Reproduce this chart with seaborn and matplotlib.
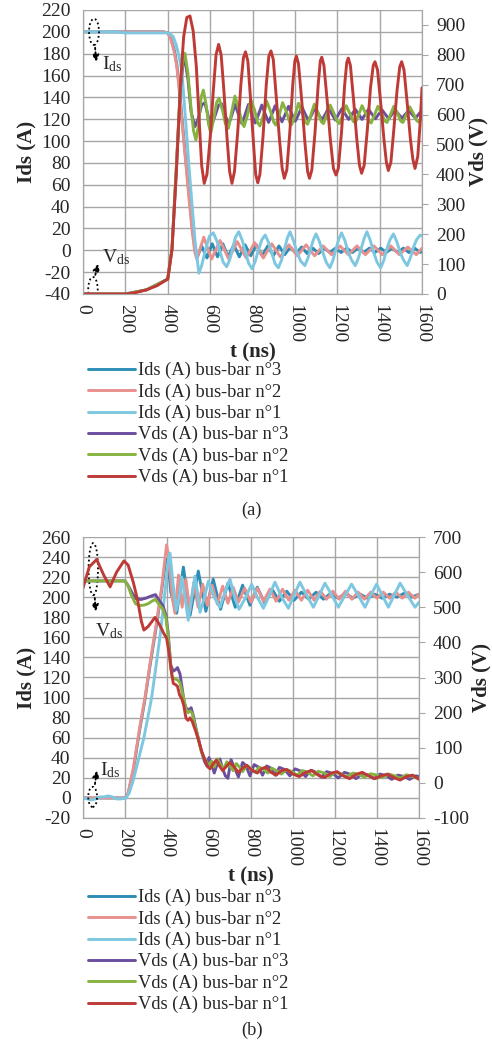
import numpy as np
import pandas as pd
import matplotlib.pyplot as plt
import seaborn as sns
from matplotlib.patches import Ellipse
from matplotlib.ticker import MultipleLocator

# ---------------- (a) ----------------
A_IDS1 = [(0, 200), (150, 200), (200, 199), (300, 199), (400, 199), (410, 198), (425, 196), (440, 188),
          (455, 176), (466, 165), (478, 135), (489, 107), (500, 77), (513, 46), (528, 10), (540, -10),
          (547, -21), (560, -14), (580, 2), (597, 13), (615, 16), (633, 8), (648, -2), (662, -11),
          (678, -15), (692, -9), (706, 2), (720, 12), (735, 17), (752, 9), (768, -3), (782, -12),
          (798, -17), (813, -10), (829, 1), (845, 10), (860, 14), (876, 7), (892, -3), (906, -12),
          (922, -16), (937, -9), (952, 2), (964, 11), (977, 17), (993, 9), (1010, -2), (1028, -10),
          (1047, -14), (1062, -7), (1077, 3), (1088, 10), (1100, 15), (1116, 8), (1132, -2), (1148, -11),
          (1165, -16), (1180, -9), (1195, 2), (1207, 10), (1220, 16), (1236, 9), (1252, -2), (1268, -9),
          (1285, -14), (1300, -7), (1315, 3), (1327, 11), (1340, 17), (1356, 9), (1372, -2), (1388, -11),
          (1405, -16), (1420, -9), (1435, 2), (1450, 10), (1465, 15), (1481, 8), (1497, -2), (1513, -9),
          (1530, -14), (1545, -7), (1560, 3), (1575, 10), (1592, 14), (1600, 13)]
A_IDS2 = [(0, 200), (380, 200), (400, 199), (415, 193), (430, 182), (443, 168), (455, 145), (470, 112),
          (485, 80), (500, 48), (515, 18), (528, -2), (537, -8), (570, 12), (607, -8), (647, 9),
          (688, -8), (728, 8), (770, -7), (810, 7), (851, -7), (891, 6), (931, -6), (972, 5),
          (1012, -5), (1053, 5), (1093, -5), (1133, 4), (1173, -4), (1213, 4), (1253, -4), (1293, 4),
          (1333, -4), (1373, 4), (1413, -4), (1453, 4), (1493, -4), (1533, 3), (1573, -4), (1600, 2)]
A_IDS3 = [(0, 200), (380, 200), (400, 199), (415, 194), (430, 184), (443, 170), (455, 148), (470, 115),
          (485, 83), (500, 52), (515, 22), (528, 2), (540, -6), (560, 4), (585, -7), (610, 6),
          (635, -6), (660, 6), (685, -6), (712, 5), (738, -6), (765, 5), (792, -5), (818, 5),
          (845, -5), (872, 4), (898, -5), (925, 4), (952, -4), (978, 3), (1005, -3), (1032, 3),
          (1058, -3), (1085, 2), (1112, -3), (1138, 2), (1165, -2), (1192, 2), (1218, -2), (1245, 2),
          (1272, -2), (1298, 2), (1325, -2), (1352, 2), (1378, -2), (1405, 2), (1432, -2), (1458, 2),
          (1485, -2), (1512, 2), (1538, -2), (1565, 2), (1592, -2), (1600, -1)]
A_VDS1 = [(0, 0), (100, 0), (200, 0), (250, 5), (300, 14), (350, 28), (400, 50), (420, 150), (440, 400),
          (460, 700), (475, 860), (490, 925), (505, 930), (520, 880), (535, 760), (550, 560), (560, 430),
          (572, 370), (585, 400), (600, 520), (615, 680), (628, 800), (640, 835), (652, 800), (665, 680),
          (680, 520), (692, 410), (703, 370), (715, 410), (730, 540), (745, 700), (757, 790), (767, 810),
          (778, 780), (790, 660), (805, 500), (815, 400), (825, 372), (835, 400), (850, 530), (865, 700),
          (877, 795), (887, 813), (898, 785), (912, 660), (927, 520), (940, 420), (950, 387), (962, 415),
          (976, 540), (990, 700), (1000, 780), (1007, 796), (1017, 770), (1032, 650), (1047, 510),
          (1060, 410), (1069, 387), (1080, 415), (1095, 540), (1110, 700), (1120, 780), (1127, 792),
          (1137, 765), (1152, 650), (1167, 520), (1182, 420), (1194, 398), (1205, 420), (1220, 540),
          (1235, 700), (1245, 775), (1252, 789), (1262, 765), (1277, 650), (1292, 520), (1305, 430),
          (1315, 404), (1327, 430), (1342, 550), (1357, 690), (1370, 765), (1378, 777), (1390, 750),
          (1405, 640), (1420, 520), (1432, 440), (1441, 413), (1453, 440), (1467, 550), (1482, 680),
          (1495, 760), (1504, 777), (1515, 750), (1530, 640), (1545, 520), (1557, 450), (1567, 420),
          (1580, 460), (1592, 580), (1600, 690)]
A_VDS2 = [(0, 0), (200, 0), (300, 14), (400, 50), (420, 150), (440, 420), (460, 700), (472, 785),
          (481, 805), (495, 740), (510, 620), (522, 545), (533, 515), (545, 565), (558, 660), (568, 682),
          (582, 630), (592, 570), (603, 538), (618, 590), (630, 640), (642, 655), (660, 610), (672, 570),
          (686, 554), (702, 610), (717, 662), (735, 620), (750, 575), (760, 560), (775, 595), (792, 650),
          (810, 615), (825, 572), (835, 562), (850, 595), (867, 645), (885, 612), (900, 575), (910, 565),
          (925, 595), (942, 640), (960, 610), (975, 575), (985, 567), (1000, 595), (1017, 638),
          (1035, 608), (1050, 575), (1060, 568), (1075, 598), (1092, 635), (1110, 605), (1125, 576),
          (1135, 570), (1150, 598), (1167, 632), (1185, 603), (1200, 577), (1210, 570), (1225, 598),
          (1242, 630), (1260, 603), (1275, 578), (1285, 572), (1300, 598), (1317, 630), (1335, 603),
          (1350, 578), (1360, 572), (1375, 598), (1392, 628), (1410, 603), (1425, 578), (1435, 574),
          (1450, 598), (1467, 628), (1485, 603), (1500, 578), (1510, 574), (1525, 598), (1542, 626),
          (1560, 603), (1575, 580), (1585, 575), (1600, 600)]
A_VDS3 = [(0, 0), (200, 0), (300, 14), (400, 50), (420, 150), (440, 410), (460, 690), (472, 770),
          (481, 785), (495, 720), (510, 610), (528, 560), (545, 590), (560, 632), (575, 640), (592, 592),
          (608, 566), (625, 600), (640, 632), (655, 636), (672, 596), (688, 568), (703, 600), (718, 634),
          (735, 598), (750, 570), (766, 602), (781, 634), (798, 598), (813, 572), (829, 602), (844, 632),
          (861, 600), (876, 574), (892, 602), (907, 630), (924, 600), (939, 576), (955, 602), (970, 628),
          (987, 600), (1002, 578), (1018, 602), (1033, 626), (1050, 600), (1065, 580), (1081, 602),
          (1096, 624), (1113, 600), (1128, 582), (1144, 602), (1159, 622), (1176, 600), (1191, 582),
          (1207, 602), (1222, 620), (1239, 600), (1254, 584), (1270, 602), (1285, 618), (1302, 600),
          (1317, 584), (1333, 602), (1348, 618), (1365, 600), (1380, 586), (1396, 602), (1411, 616),
          (1428, 600), (1443, 586), (1459, 602), (1474, 616), (1491, 600), (1506, 588), (1522, 602),
          (1537, 614), (1554, 600), (1569, 588), (1585, 602), (1600, 614)]

# ---------------- (b) ----------------
B_IDS1 = [(0, 0), (20, -1), (40, -2), (60, -1), (80, 1), (100, 1), (120, 2), (140, 1), (160, -1),
          (180, -1), (205, 0), (220, 5), (240, 18), (260, 35), (290, 60), (327, 100), (350, 135),
          (366, 160), (380, 185), (395, 215), (405, 235), (414, 244), (428, 215), (444, 187), (458, 200),
          (470, 220), (486, 200), (501, 177), (518, 200), (533, 221), (545, 205), (557, 185), (578, 200),
          (597, 216), (625, 200), (652, 190), (676, 205), (700, 218), (722, 200), (743, 188), (775, 200),
          (803, 213), (830, 200), (859, 189), (888, 202), (914, 215), (946, 200), (978, 189), (1005, 202),
          (1033, 215), (1065, 202), (1097, 190), (1125, 202), (1152, 214), (1185, 202), (1216, 190),
          (1248, 202), (1279, 213), (1310, 202), (1343, 190), (1370, 202), (1398, 213), (1425, 202),
          (1454, 190), (1482, 202), (1510, 214), (1545, 202), (1581, 190), (1600, 195)]
B_IDS2 = [(0, 0), (200, 0), (215, 5), (240, 30), (270, 70), (295, 100), (320, 135), (350, 175),
          (375, 210), (390, 238), (398, 252), (410, 238), (425, 200), (438, 184), (455, 222), (472, 190),
          (490, 218), (508, 186), (528, 215), (548, 190), (570, 213), (592, 192), (615, 212), (640, 193),
          (665, 211), (690, 194), (715, 210), (740, 195), (770, 209), (800, 195), (830, 209), (860, 196),
          (890, 208), (920, 196), (950, 208), (980, 197), (1010, 207), (1040, 197), (1070, 207),
          (1100, 197), (1130, 206), (1160, 198), (1190, 206), (1220, 198), (1250, 206), (1280, 198),
          (1310, 205), (1340, 198), (1370, 205), (1400, 199), (1430, 205), (1460, 199), (1490, 205),
          (1520, 199), (1550, 205), (1580, 199), (1600, 203)]
B_IDS3 = [(0, 0), (200, 0), (215, 4), (240, 28), (270, 68), (295, 98), (320, 133), (350, 172),
          (375, 208), (395, 238), (405, 236), (418, 205), (446, 184), (478, 230), (510, 182), (549, 226),
          (585, 186), (620, 218), (655, 188), (690, 214), (725, 190), (760, 212), (795, 192), (830, 210),
          (865, 194), (900, 208), (935, 196), (970, 206), (1005, 197), (1040, 205), (1075, 198),
          (1110, 205), (1145, 198), (1180, 204), (1215, 199), (1250, 204), (1285, 199), (1320, 203),
          (1355, 199), (1390, 203), (1425, 199), (1460, 203), (1495, 200), (1530, 204), (1565, 200),
          (1600, 203)]
B_VDS1 = [(0, 555), (30, 615), (65, 636), (100, 590), (129, 558), (160, 600), (195, 632), (215, 620),
          (240, 570), (260, 520), (278, 460), (290, 435), (310, 445), (343, 471), (365, 450), (385, 425),
          (398, 412), (410, 370), (420, 320), (430, 283), (440, 280), (450, 275), (460, 250), (470, 240),
          (480, 220), (490, 185), (500, 178), (510, 185), (520, 175), (535, 150), (550, 122), (565, 90),
          (581, 65), (595, 45), (605, 40), (620, 55), (635, 65), (650, 48), (665, 35), (680, 45),
          (700, 58), (720, 45), (740, 30), (760, 42), (780, 50), (800, 38), (830, 28), (850, 40),
          (870, 45), (895, 30), (920, 22), (945, 35), (970, 38), (1000, 25), (1030, 18), (1060, 30),
          (1090, 35), (1120, 22), (1150, 15), (1180, 27), (1210, 32), (1240, 20), (1270, 12), (1300, 24),
          (1330, 30), (1360, 20), (1390, 12), (1420, 20), (1450, 25), (1480, 15), (1510, 8), (1540, 18),
          (1570, 22), (1600, 10)]
B_VDS2 = [(0, 575), (200, 575), (215, 560), (230, 535), (250, 510), (270, 505), (290, 506), (310, 510),
          (330, 518), (345, 522), (360, 510), (380, 495), (395, 470), (405, 420), (418, 330), (425, 300),
          (440, 296), (452, 292), (462, 285), (470, 265), (480, 240), (490, 212), (500, 200), (510, 205),
          (520, 198), (530, 172), (540, 148), (550, 122), (562, 92), (575, 72), (590, 58), (600, 50),
          (612, 62), (625, 45), (640, 68), (655, 52), (670, 40), (685, 60), (700, 48), (715, 35),
          (730, 55), (745, 45), (760, 32), (780, 50), (800, 40), (820, 30), (840, 45), (860, 38),
          (880, 28), (900, 42), (920, 35), (945, 25), (970, 38), (995, 32), (1020, 22), (1045, 35),
          (1070, 30), (1095, 20), (1120, 33), (1150, 28), (1175, 18), (1200, 30), (1230, 25), (1255, 17),
          (1285, 28), (1315, 24), (1340, 16), (1370, 26), (1400, 22), (1425, 15), (1455, 25), (1485, 20),
          (1510, 13), (1540, 23), (1570, 18), (1600, 12)]
B_VDS3 = [(0, 575), (200, 575), (215, 562), (230, 545), (250, 525), (275, 522), (300, 526), (330, 533),
          (345, 536), (360, 522), (380, 505), (395, 478), (405, 430), (418, 335), (430, 318), (440, 322),
          (450, 328), (462, 310), (472, 270), (482, 228), (492, 212), (505, 208), (515, 214), (525, 192),
          (538, 155), (552, 120), (565, 88), (578, 62), (590, 48), (600, 72), (612, 55), (625, 28),
          (640, 55), (652, 68), (665, 40), (678, 20), (690, 13), (705, 66), (720, 45), (740, 17),
          (760, 58), (775, 50), (795, 20), (815, 52), (835, 45), (855, 22), (875, 48), (895, 42),
          (915, 22), (935, 44), (960, 38), (985, 20), (1010, 40), (1035, 34), (1060, 18), (1085, 36),
          (1110, 30), (1135, 16), (1160, 32), (1190, 27), (1215, 14), (1245, 30), (1275, 24), (1300, 12),
          (1330, 26), (1360, 22), (1385, 12), (1415, 25), (1445, 20), (1470, 10), (1500, 22), (1530, 18),
          (1555, 10), (1585, 20), (1600, 18)]

LABELS = ["Ids (A) bus-bar n°3", "Ids (A) bus-bar n°2", "Ids (A) bus-bar n°1",
          "Vds (A) bus-bar n°3", "Vds (A) bus-bar n°2", "Vds (A) bus-bar n°1"]
COLORS = ["#2E8DB5", "#E8908D", "#7DC7E1", "#6B4E9E", "#86B340", "#BE3A36"]

sns.set_style("white")
plt.rcParams["font.family"] = ["Liberation Serif", "DejaVu Serif"]
plt.rcParams["axes.unicode_minus"] = False
plt.rcParams["mathtext.fontset"] = "custom"
plt.rcParams["mathtext.rm"] = "Liberation Serif"
plt.rcParams["mathtext.it"] = "Liberation Serif"

GRID = "#A6A6A6"
LW = 2.1
FS = 14
LAB = 15


def draw(ax, series, color):
    df = pd.DataFrame(series, columns=["t", "v"])
    sns.lineplot(data=df, x="t", y="v", ax=ax, color=color, lw=LW, estimator=None, sort=False)


def panel(rect, ids, vds, ylim, vlim):
    ax = fig.add_axes(rect)
    ax2 = ax.twinx()
    for s, c in zip(ids, COLORS[:3]):
        draw(ax, s, c)
    for s, c in zip(vds, COLORS[3:]):
        draw(ax2, s, c)
    ax.set_xlim(0, 1600)
    ax.set_ylim(*ylim)
    ax2.set_ylim(*vlim)
    ax.xaxis.set_major_locator(MultipleLocator(200))
    ax.xaxis.set_minor_locator(MultipleLocator(100))
    ax.yaxis.set_major_locator(MultipleLocator(20))
    ax2.yaxis.set_major_locator(MultipleLocator(100))
    ax.grid(True, color=GRID, lw=1)
    ax.tick_params(axis="x", which="both", direction="inout", length=6, color=GRID,
                   labelsize=FS, labelrotation=270, pad=4)
    ax.tick_params(axis="y", length=0, labelsize=FS, pad=9)
    ax2.tick_params(axis="y", direction="out", length=4, color=GRID, labelsize=FS, pad=6)
    for lbl in ax.get_xticklabels():
        lbl.set_va("top")
    for a in (ax, ax2):
        for side in a.spines.values():
            side.set_color(GRID)
        a.spines["top"].set_visible(False)
    ax.set_xlabel("t (ns)", fontsize=LAB, fontweight="bold", labelpad=0)
    ax.set_ylabel("Ids (A)", fontsize=LAB, fontweight="bold", labelpad=3)
    ax2.set_ylabel("Vds (V)", fontsize=LAB, fontweight="bold", labelpad=2)
    return ax, ax2


def marker(ax, center, w, h, start, end, label, text_xy):
    ax.add_patch(Ellipse(center, w, h, fill=False, ls=(0, (1, 1.5)), lw=1.3, ec="black", zorder=5))
    ax.annotate("", xy=end, xytext=start,
                arrowprops=dict(arrowstyle="-|>", ls=(0, (1, 1.5)), lw=1.3, color="black"),
                zorder=5)
    ax.text(*text_xy, label, fontsize=14, va="center", ha="left", zorder=5)


fig = plt.figure(figsize=(4.92, 10.44), dpi=100)

# panel (a)
axa, axa2 = panel([83 / 492, 1 - 294 / 1044, 339 / 492, 284 / 1044],
                  [A_IDS3, A_IDS2, A_IDS1], [A_VDS3, A_VDS2, A_VDS1], (-40, 220), (0, 950))
marker(axa, (52, 200), 47, 24, (56, 188), (64, 170), r"I$_{\rm ds}$", (88, 170))
marker(axa, (47, -36), 45, 23, (55, -25), (74, -10), r"V$_{\rm ds}$", (88, -6))
handles = axa.get_lines()[:3] + axa2.get_lines()[:3]

# panel (b)
axb, axb2 = panel([83 / 492, 1 - 818 / 1044, 336 / 492, 281 / 1044],
                  [B_IDS3, B_IDS2, B_IDS1], [B_VDS3, B_VDS2, B_VDS1], (-20, 260), (-100, 700))
marker(axb, (49, 228), 45, 52, (55, 202), (62, 183), r"V$_{\rm ds}$", (55, 166))
marker(axb, (46, 1), 42, 20, (55, 11), (68, 30), r"I$_{\rm ds}$", (80, 28))

for y_top, cap, y_cap in [(362, "(a)", 510), (889, "(b)", 1030)]:
    fig.legend(handles, LABELS, loc="upper left", bbox_to_anchor=(88 / 492, 1 - y_top / 1044),
               frameon=False, fontsize=13.3, handlelength=2.55, handletextpad=0.15,
               labelspacing=0.22, borderpad=0, borderaxespad=0)
    fig.text(252 / 492, 1 - y_cap / 1044, cap, fontsize=13.3, ha="center", va="center")

fig.savefig("out.png", dpi=100)
